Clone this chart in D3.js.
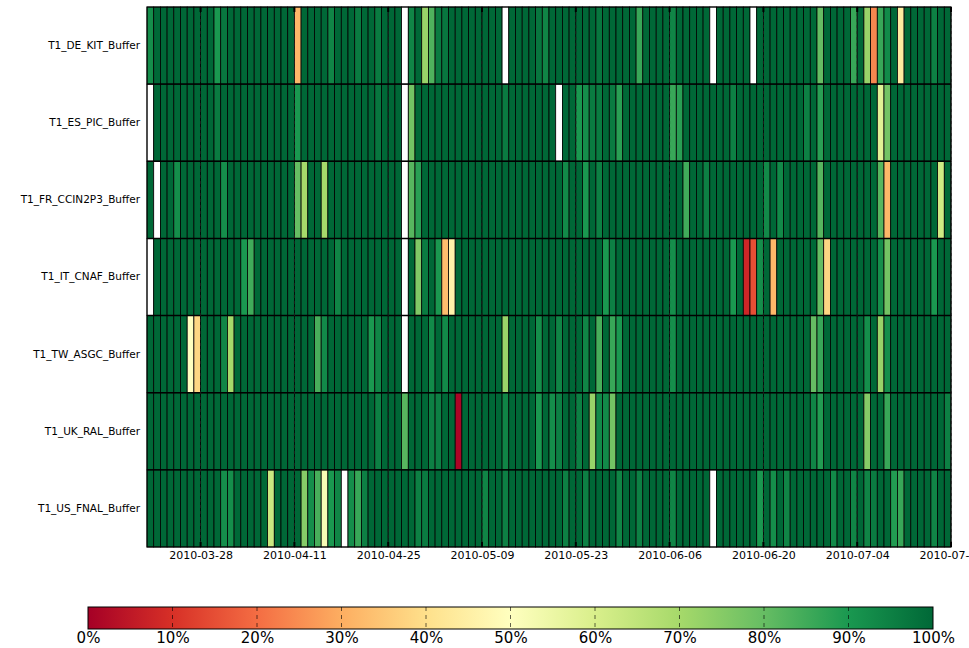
<!DOCTYPE html>
<html>
<head>
<meta charset="utf-8">
<script src="https://cdn.jsdelivr.net/npm/d3@7"></script>
<style>
  html, body { margin: 0; padding: 0; background: #fff; }
  svg { display: block; font-family: "DejaVu Sans", sans-serif; }
</style>
</head>
<body>
<svg id="chart" width="969" height="648"></svg>
<script>
// Daily buffer availability (%) per Tier-1 site, 2010-03-20 .. 2010-07-17.
// null = no measurement for that day.
const sites = [
  "T1_DE_KIT_Buffer", "T1_ES_PIC_Buffer", "T1_FR_CCIN2P3_Buffer",
  "T1_IT_CNAF_Buffer", "T1_TW_ASGC_Buffer", "T1_UK_RAL_Buffer", "T1_US_FNAL_Buffer"
];
const startDate = "2010-03-20";
const endDate = "2010-07-18";

const kitValues = [
  92,100,100,100,100,100,100,100,100,100,
  90,97,100,100,100,100,100,100,100,100,
  100,100,32,100,100,100,100,94,100,100,
  100,96,100,100,96,100,100,100,null,94,
  100,72,83,96,97,100,100,100,100,100,
  100,100,100,null,100,100,100,100,97,94,
  100,100,100,100,100,100,100,97,100,100,
  100,100,100,86,100,100,100,100,94,100,
  100,100,100,100,null,100,100,100,100,100,
  null,100,100,100,100,100,100,100,100,100,
  80,100,100,100,100,86,100,72,24,86,
  93,100,44,100,100,100,100,95,100,100
];
const picValues = [
  null,100,100,100,100,100,100,100,100,100,
  96,100,100,100,100,100,100,100,100,100,
  100,100,90,100,100,100,100,100,100,100,
  100,100,100,100,97,100,100,100,null,78,
  100,100,100,100,100,100,100,100,100,100,
  100,100,100,96,100,100,100,100,100,100,
  100,null,100,100,90,92,96,96,100,96,
  88,100,100,100,100,100,100,100,86,88,
  100,100,100,100,100,100,100,95,100,100,
  100,100,100,100,100,100,100,100,95,100,
  88,100,100,100,100,100,100,100,100,58,
  78,100,100,100,100,100,100,100,100,100
];
const ccin2p3Values = [
  100,null,100,100,92,100,100,100,100,100,
  100,92,100,100,100,100,100,100,100,100,
  100,100,80,70,100,100,70,100,100,100,
  100,100,100,100,100,100,100,100,null,82,
  88,100,100,100,100,100,100,100,100,100,
  100,100,100,100,100,100,100,100,100,100,
  100,100,93,100,100,90,100,95,100,100,
  100,100,100,100,100,100,100,100,100,100,
  85,100,100,95,100,100,100,100,100,100,
  100,100,93,100,93,100,100,100,100,100,
  82,100,100,100,100,100,100,100,100,82,
  32,100,100,100,100,100,100,100,62,100
];
const cnafValues = [
  null,100,100,100,100,100,100,100,100,100,
  100,100,100,100,90,85,100,100,100,100,
  100,100,100,100,100,100,100,100,94,100,
  100,100,100,100,100,100,100,100,null,100,
  76,96,100,90,33,46,100,100,100,100,
  100,100,100,100,100,100,100,100,100,100,
  100,100,100,100,100,100,100,100,90,95,
  100,100,100,100,100,100,100,100,92,100,
  100,100,100,100,100,100,100,90,100,8,
  15,92,100,32,100,100,100,100,100,100,
  80,38,100,100,100,100,100,100,100,92,
  78,100,100,100,100,100,100,90,100,100
];
const asgcValues = [
  100,100,100,100,100,100,50,38,100,100,
  100,94,70,100,100,100,100,100,100,100,
  100,100,100,100,100,84,93,100,100,100,
  100,100,100,90,94,100,100,100,null,100,
  100,100,93,100,93,100,100,100,100,100,
  100,100,100,72,100,100,100,100,92,100,
  100,94,100,100,100,94,100,84,100,86,
  90,100,100,100,100,100,100,100,92,100,
  100,100,100,100,100,100,100,100,100,100,
  100,100,100,100,100,100,100,100,100,80,
  86,100,100,100,100,100,100,92,100,72,
  92,100,100,100,100,100,100,100,100,100
];
const ralValues = [
  100,100,100,100,100,100,100,100,100,100,
  100,100,100,100,100,100,100,100,100,100,
  100,100,100,100,100,100,100,100,100,100,
  100,100,100,100,95,100,100,100,82,100,
  100,100,95,95,100,100,1,100,100,100,
  100,100,100,94,100,100,100,100,90,100,
  92,95,100,100,95,100,72,93,93,78,
  100,100,100,100,100,100,100,100,100,100,
  100,100,100,100,100,100,100,100,100,100,
  100,100,100,100,100,100,100,100,100,94,
  89,100,100,100,100,100,100,75,100,100,
  86,100,100,100,100,100,100,100,100,95
];
const fnalValues = [
  100,100,100,100,100,100,100,100,100,100,
  100,92,92,100,100,100,100,100,63,100,
  100,100,100,75,92,84,52,90,94,null,
  92,86,95,100,100,100,100,100,100,100,
  95,96,100,100,100,100,100,100,100,100,
  94,100,100,95,100,100,100,100,100,100,
  100,100,95,100,100,95,100,100,100,100,
  94,100,100,95,100,100,100,100,94,100,
  100,100,100,100,null,100,100,100,100,100,
  100,90,100,92,100,94,100,100,100,100,
  100,100,93,100,100,94,100,94,96,100,
  100,89,86,100,100,100,100,94,100,100
];
const siteValues = [kitValues, picValues, ccin2p3Values, cnafValues, asgcValues, ralValues, fnalValues];

const tickLabels = ["2010-03-28", "2010-04-11", "2010-04-25", "2010-05-09",
                    "2010-05-23", "2010-06-06", "2010-06-20", "2010-07-04", "2010-07-18"];
const colorbarTicks = [0, 10, 20, 30, 40, 50, 60, 70, 80, 90, 100];
const rdylgn = ["#a50026", "#d73027", "#f46d43", "#fdae61", "#fee08b", "#ffffbf",
                "#d9ef8b", "#a6d96a", "#66bd63", "#1a9850", "#006837"];

const parse = d3.utcParse("%Y-%m-%d");
const days = d3.utcDay.range(parse(startDate), parse(endDate));

const svg = d3.select("#chart");
const plot = { left: 147, right: 951, top: 7, bottom: 547 };

const x = d3.scaleUtc().domain([parse(startDate), parse(endDate)]).range([plot.left, plot.right]);
const y = d3.scaleBand().domain(sites).range([plot.top, plot.bottom]);
const color = d3.scaleLinear().domain(colorbarTicks).range(rdylgn).interpolate(d3.interpolateRgb).clamp(true);

// Heatmap cells
const cells = [];
sites.forEach((s, i) => {
  siteValues[i].forEach((v, j) => cells.push({ site: s, day: days[j], value: v }));
});

svg.append("g")
  .selectAll("rect")
  .data(cells)
  .join("rect")
  .attr("x", d => x(d.day))
  .attr("width", d => x(d3.utcDay.offset(d.day, 1)) - x(d.day))
  .attr("y", d => y(d.site))
  .attr("height", y.bandwidth())
  .attr("fill", d => d.value == null ? "#ffffff" : color(d.value))
  .attr("stroke", "#000")
  .attr("stroke-width", 0.8);

// Row separators
svg.append("g")
  .selectAll("line")
  .data(sites.slice(1))
  .join("line")
  .attr("x1", plot.left).attr("x2", plot.right)
  .attr("y1", d => y(d)).attr("y2", d => y(d))
  .attr("stroke", "#000").attr("stroke-width", 1.4);

const tickDates = tickLabels.map(parse);

// Dashed date grid
svg.append("g")
  .selectAll("line")
  .data(tickDates)
  .join("line")
  .attr("x1", d => x(d)).attr("x2", d => x(d))
  .attr("y1", plot.top).attr("y2", plot.bottom)
  .attr("stroke", "#222").attr("stroke-opacity", 0.8)
  .attr("stroke-width", 1).attr("stroke-dasharray", "3,3");

// Inward tick marks top and bottom
const tickG = svg.append("g");
tickG.selectAll("line.top")
  .data(tickDates).join("line").attr("class", "top")
  .attr("x1", d => x(d)).attr("x2", d => x(d))
  .attr("y1", plot.top).attr("y2", plot.top + 5)
  .attr("stroke", "#000").attr("stroke-width", 2);
tickG.selectAll("line.bot")
  .data(tickDates).join("line").attr("class", "bot")
  .attr("x1", d => x(d)).attr("x2", d => x(d))
  .attr("y1", plot.bottom - 5).attr("y2", plot.bottom)
  .attr("stroke", "#000").attr("stroke-width", 2);

// Frame
svg.append("rect")
  .attr("x", plot.left).attr("y", plot.top)
  .attr("width", plot.right - plot.left).attr("height", plot.bottom - plot.top)
  .attr("fill", "none").attr("stroke", "#000").attr("stroke-width", 1);

// X axis labels
const xAxis = svg.append("g")
  .attr("transform", `translate(0,${plot.bottom})`)
  .call(d3.axisBottom(x).tickValues(tickDates).tickFormat(d3.utcFormat("%Y-%m-%d")).tickSize(0).tickPadding(4));
xAxis.select(".domain").remove();
xAxis.selectAll("text").attr("font-size", 11).attr("font-family", "DejaVu Sans").attr("fill", "#000");

// Y axis labels
const yAxis = svg.append("g")
  .attr("transform", `translate(${plot.left},0)`)
  .call(d3.axisLeft(y).tickSize(0).tickPadding(7));
yAxis.select(".domain").remove();
yAxis.selectAll("text").attr("font-size", 10.5).attr("font-family", "DejaVu Sans").attr("fill", "#000");

// Colorbar
const cb = { left: 88, right: 933, top: 607, bottom: 629 };
const cbScale = d3.scaleLinear().domain([0, 100]).range([cb.left, cb.right]);
const grad = svg.append("defs").append("linearGradient").attr("id", "cbgrad")
  .attr("x1", "0%").attr("x2", "100%").attr("y1", "0%").attr("y2", "0%");
grad.selectAll("stop")
  .data(colorbarTicks)
  .join("stop")
  .attr("offset", d => d + "%")
  .attr("stop-color", d => color(d));

svg.append("rect")
  .attr("x", cb.left).attr("y", cb.top)
  .attr("width", cb.right - cb.left).attr("height", cb.bottom - cb.top)
  .attr("fill", "url(#cbgrad)");

svg.append("g")
  .selectAll("line")
  .data(colorbarTicks.slice(1, -1))
  .join("line")
  .attr("x1", d => cbScale(d)).attr("x2", d => cbScale(d))
  .attr("y1", cb.top).attr("y2", cb.bottom)
  .attr("stroke", "#000").attr("stroke-opacity", 0.6)
  .attr("stroke-width", 1).attr("stroke-dasharray", "4,4");

svg.append("rect")
  .attr("x", cb.left).attr("y", cb.top)
  .attr("width", cb.right - cb.left).attr("height", cb.bottom - cb.top)
  .attr("fill", "none").attr("stroke", "#000").attr("stroke-width", 1);

const cbAxis = svg.append("g")
  .attr("transform", `translate(0,${cb.bottom})`)
  .call(d3.axisBottom(cbScale).tickValues(colorbarTicks).tickFormat(d => d + "%").tickSize(0).tickPadding(3));
cbAxis.select(".domain").remove();
cbAxis.selectAll("text").attr("font-size", 15).attr("font-family", "DejaVu Sans").attr("fill", "#000");
</script>
</body>
</html>
